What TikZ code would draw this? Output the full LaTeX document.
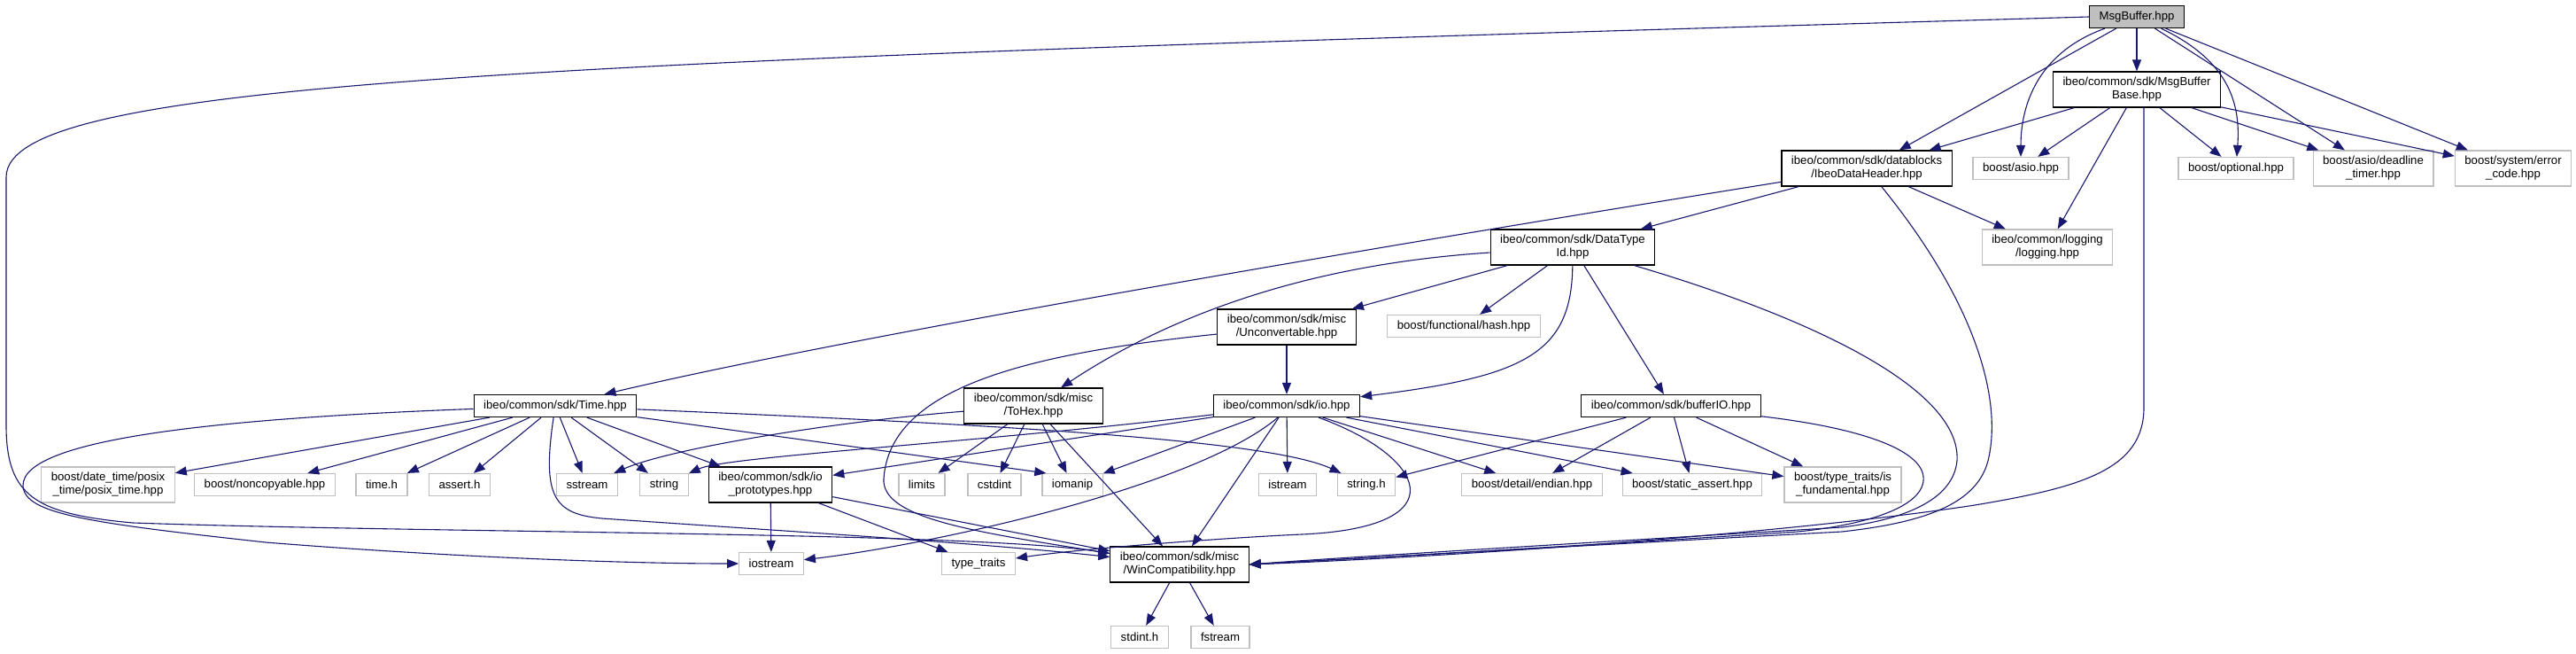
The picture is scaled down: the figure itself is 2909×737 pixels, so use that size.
\documentclass[tikz,border=0pt]{standalone}
\usepackage{fontspec}
\setmainfont{Liberation Sans}
\usetikzlibrary{arrows.meta}
\definecolor{edgeblue}{RGB}{25,25,112}
\definecolor{extgray}{RGB}{191,191,191}

\begin{document}
\begin{tikzpicture}[x=1pt, y=-1pt,
  box/.style={rectangle, draw, line width=1.2pt, fill=white, align=center,
              minimum height=25pt, inner xsep=11pt, inner ysep=2pt,
              font=\fontsize{13.2}{15}\selectfont},
  doc/.style={box, draw=black},
  ext/.style={box, draw=extgray},
  root/.style={box, draw=black, fill=extgray},
  two/.style={minimum height=40pt},
  dep/.style={draw=edgeblue, line width=1.1pt,
              -{Triangle[length=13pt, width=10pt]}}]
  \useasboundingbox[fill=white] (0,0) rectangle (2909,737);
  % files
  \node[root] (msgbuf) at (2413,19) {MsgBuffer.hpp};
  \node[doc, two] (base) at (2413,101) {ibeo/common/sdk/MsgBuffer\\Base.hpp};
  \node[doc, two] (header) at (2108,190) {ibeo/common/sdk/datablocks\\/IbeoDataHeader.hpp};
  \node[ext] (asio) at (2282,190) {boost/asio.hpp};
  \node[ext] (optional) at (2525,190) {boost/optional.hpp};
  \node[ext, two] (deadline) at (2680,190) {boost/asio/deadline\\\_timer.hpp};
  \node[ext, two] (errcode) at (2838,190) {boost/system/error\\\_code.hpp};
  \node[doc, two] (typeid) at (1776,279) {ibeo/common/sdk/DataType\\Id.hpp};
  \node[ext, two] (logging) at (2312,279) {ibeo/common/logging\\/logging.hpp};
  \node[doc, two] (uncon) at (1453,369) {ibeo/common/sdk/misc\\/Unconvertable.hpp};
  \node[ext] (hash) at (1653,368) {boost/functional/hash.hpp};
  \node[doc] (time) at (627,458) {ibeo/common/sdk/Time.hpp};
  \node[doc, two] (tohex) at (1167,458) {ibeo/common/sdk/misc\\/ToHex.hpp};
  \node[doc] (io) at (1453,458) {ibeo/common/sdk/io.hpp};
  \node[doc] (bufio) at (1887,458) {ibeo/common/sdk/bufferIO.hpp};
  \node[ext, two] (datetime) at (122,547) {boost/date\_time/posix\\\_time/posix\_time.hpp};
  \node[ext] (noncopy) at (299,547) {boost/noncopyable.hpp};
  \node[ext] (timeh) at (431,547) {time.h};
  \node[ext] (asserth) at (519,547) {assert.h};
  \node[ext] (sstream) at (663,547) {sstream};
  \node[ext] (string) at (750,547) {string};
  \node[doc, two] (ioproto) at (870,547) {ibeo/common/sdk/io\\\_prototypes.hpp};
  \node[ext] (limits) at (1041,547) {limits};
  \node[ext] (cstdint) at (1123,547) {cstdint};
  \node[ext] (iomanip) at (1211,547) {iomanip};
  \node[ext] (istream) at (1454,547) {istream};
  \node[ext] (stringh) at (1543,547) {string.h};
  \node[ext] (endian) at (1730,547) {boost/detail/endian.hpp};
  \node[ext] (statassert) at (1911,547) {boost/static\_assert.hpp};
  \node[ext, two] (isfund) at (2081,547) {boost/type\_traits/is\\\_fundamental.hpp};
  \node[ext] (iostream) at (871,636) {iostream};
  \node[ext] (typetraits) at (1105,636) {type\_traits};
  \node[doc, two] (wincompat) at (1332,637) {ibeo/common/sdk/misc\\/WinCompatibility.hpp};
  \node[ext] (stdinth) at (1287,719) {stdint.h};
  \node[ext] (fstream) at (1378,719) {fstream};
  % MsgBuffer.hpp
  \draw[dep] (msgbuf) -- (header);
  \draw[dep] (msgbuf) .. controls (2300,60) and (2282,120) .. (asio);
  \draw[dep] (msgbuf) -- (base);
  \draw[dep] (msgbuf) .. controls (2520,70) and (2530,120) .. (optional);
  \draw[dep] (msgbuf) -- (deadline);
  \draw[dep] (msgbuf) -- (errcode);
  \draw[dep] (msgbuf.west) .. controls (600,70) and (7,90) .. (7,200) -- (7,480)
    .. controls (7,560) and (40,580) .. (150,590)
    .. controls (500,602) and (1100,600) .. (wincompat);
  % MsgBufferBase.hpp
  \draw[dep] (base) -- (header);
  \draw[dep] (base) -- (asio);
  \draw[dep] (base) -- (logging);
  \draw[dep] (base) -- (optional);
  \draw[dep] (base) -- (deadline);
  \draw[dep] (base) -- (errcode);
  \draw[dep] ([xshift=8pt]base.south) -- (2421,460)
    .. controls (2421,530) and (2350,550) .. (2230,570)
    .. controls (2000,605) and (1600,630) .. (wincompat.east);
  % IbeoDataHeader.hpp
  \draw[dep] (header) .. controls (1700,255) and (1000,370) .. (time);
  \draw[dep] (header) -- (typeid);
  \draw[dep] (header) -- (logging);
  \draw[dep] (header) .. controls (2230,340) and (2262,450) .. (2245,520)
    .. controls (2232,570) and (2170,590) .. (2080,600)
    .. controls (1800,615) and (1500,632) .. (wincompat.east);
  % DataTypeId.hpp
  \draw[dep] (typeid) .. controls (1450,300) and (1300,370) .. (tohex);
  \draw[dep] (typeid) -- (uncon);
  \draw[dep] (typeid) -- (hash);
  \draw[dep] (typeid) .. controls (1775,400) and (1720,425) .. (io);
  \draw[dep] (typeid) -- (bufio);
  \draw[dep] (typeid) .. controls (2050,360) and (2215,440) .. (2210,520)
    .. controls (2206,560) and (2160,585) .. (2080,595)
    .. controls (1800,612) and (1500,630) .. (wincompat.east);
  % Unconvertable.hpp
  \draw[dep] (uncon) -- (io);
  \draw[dep] (uncon) .. controls (1150,400) and (1005,440) .. (998,540)
    .. controls (995,585) and (1100,600) .. (wincompat);
  % Time.hpp
  \draw[dep] (time) .. controls (250,472) and (25,495) .. (26,548)
    .. controls (27,580) and (100,590) .. (300,612)
    .. controls (500,628) and (700,636) .. (iostream);
  \draw[dep] (time) -- (datetime);
  \draw[dep] (time) -- (noncopy);
  \draw[dep] (time) -- (timeh);
  \draw[dep] (time) -- (asserth);
  \draw[dep] (time) .. controls (612,560) and (625,580) .. (680,585)
    .. controls (850,597) and (1100,612) .. (wincompat);
  \draw[dep] (time) -- (sstream);
  \draw[dep] (time) -- (string);
  \draw[dep] (time) -- (ioproto);
  \draw[dep] (time) -- ([xshift=5pt]iomanip.north west);
  \draw[dep] (time) .. controls (1100,478) and (1430,495) .. (stringh);
  % ToHex.hpp
  \draw[dep] (tohex) .. controls (950,475) and (760,505) .. (sstream);
  \draw[dep] (tohex) -- (limits);
  \draw[dep] (tohex) -- (cstdint);
  \draw[dep] (tohex) -- (iomanip);
  \draw[dep] (tohex) -- (wincompat);
  % io.hpp
  \draw[dep] (io) .. controls (1100,500) and (820,515) .. (string);
  \draw[dep] (io) -- (ioproto);
  \draw[dep] (io) -- (iomanip);
  \draw[dep] ([xshift=-10pt]io.south) .. controls (1350,550) and (1050,615) .. (iostream);
  \draw[dep] (io) -- (wincompat);
  \draw[dep] (io) -- (istream);
  \draw[dep] ([xshift=36pt]io.south) .. controls (1610,515) and (1650,595) .. (1470,603)
    .. controls (1400,606) and (1230,618) .. (typetraits);
  \draw[dep] (io) -- (endian);
  \draw[dep] (io) -- (statassert);
  \draw[dep] (io) -- (isfund);
  % bufferIO.hpp
  \draw[dep] (bufio) -- (stringh);
  \draw[dep] (bufio) -- (endian);
  \draw[dep] (bufio) -- (statassert);
  \draw[dep] (bufio) -- (isfund);
  \draw[dep] (bufio) .. controls (2120,485) and (2185,515) .. (2170,550)
    .. controls (2160,573) and (2110,592) .. (2030,600)
    .. controls (1800,615) and (1500,632) .. (wincompat.east);
  % io_prototypes.hpp
  \draw[dep] (ioproto) -- (iostream);
  \draw[dep] (ioproto) -- (typetraits);
  \draw[dep] (ioproto) -- (wincompat);
  % WinCompatibility.hpp
  \draw[dep] (wincompat) -- (stdinth);
  \draw[dep] (wincompat) -- (fstream);
\end{tikzpicture}
\end{document}
